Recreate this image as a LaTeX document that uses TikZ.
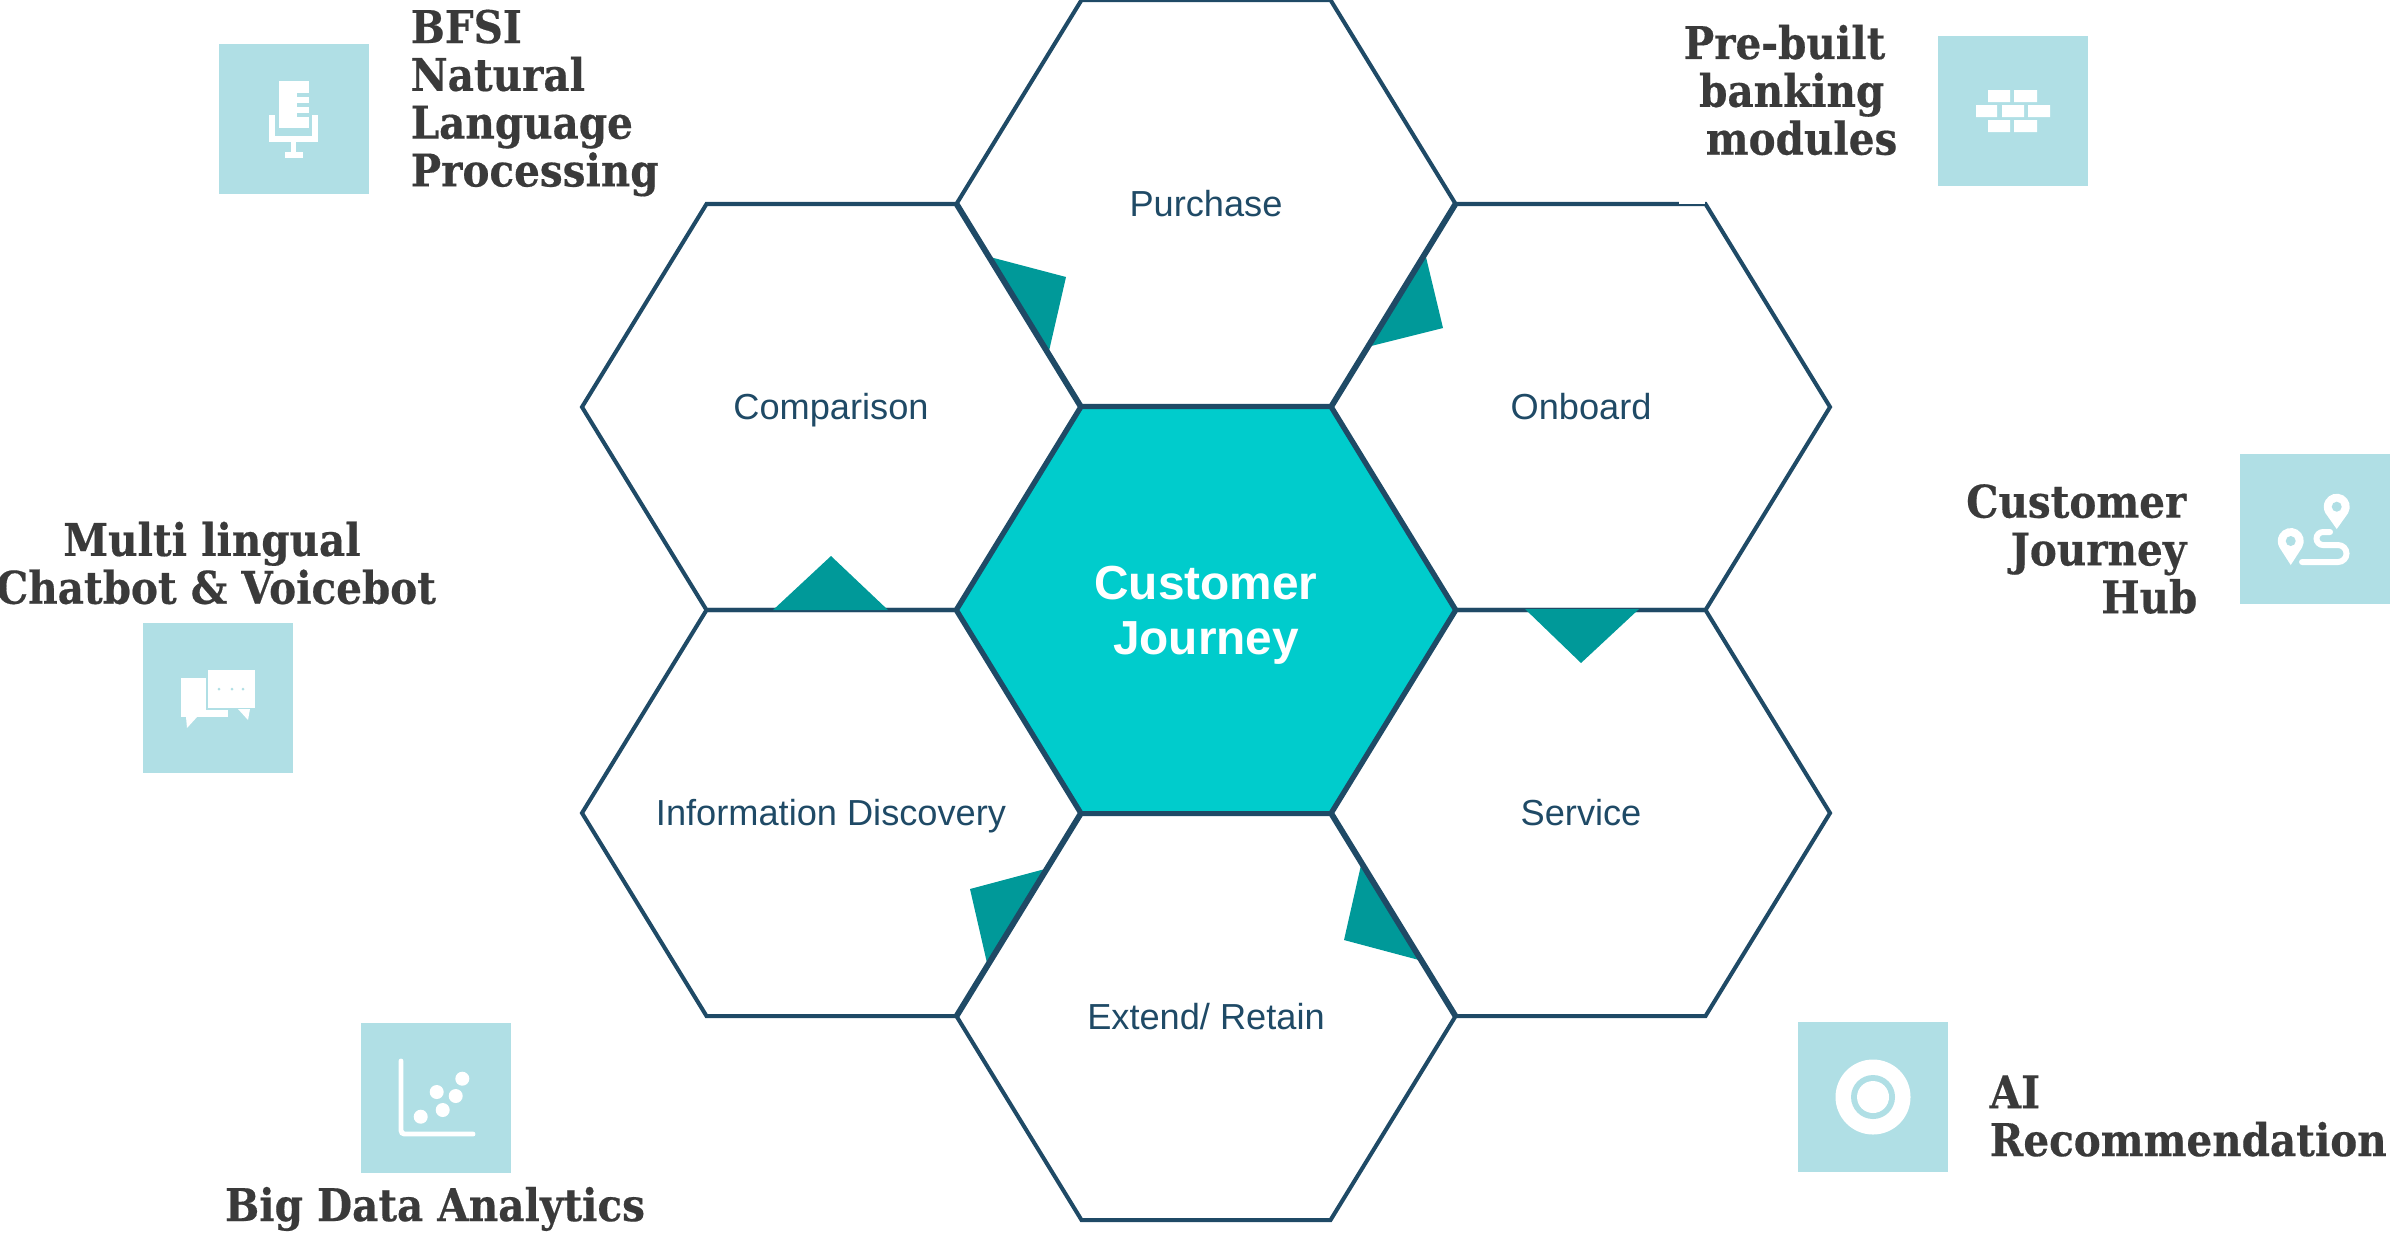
\documentclass[tikz,border=0pt]{standalone}
\usepackage{fontspec}
\setmainfont{Liberation Sans}
\newfontfamily\slabfont[FakeStretch=0.9,FakeBold=0.4]{DejaVu Serif}
\definecolor{hexblue}{HTML}{1F4A66}
\definecolor{hubcyan}{HTML}{00CCCC}
\definecolor{tipteal}{HTML}{009999}
\definecolor{iconblue}{HTML}{B0DFE5}
\definecolor{slabgray}{HTML}{3A3A3A}
\tikzset{
    hexline/.style={draw=hexblue, line width=1.15pt, line join=miter},
    hexcell/.pic={\draw[hexline, pic actions] (-2.49,0) -- (-1.245,-2.03) -- (1.245,-2.03) -- (2.49,0) -- (1.245,2.03) -- (-1.245,2.03) -- cycle;},
    hexlabel/.style={text=hexblue, text height=7.4pt, text depth=0pt, font=\fontsize{10.3}{12}\selectfont},
    tip/.style={fill=tipteal},
    iconbox/.style={fill=iconblue, minimum size=1.5cm, inner sep=0pt, outer sep=0pt},
    iconline/.style={draw=white, line width=1.6pt},
    slablabel/.style={text=slabgray, inner sep=0pt, font=\slabfont\bfseries\fontsize{12.8}{13.6}\selectfont}
}
\begin{document}
\begin{tikzpicture}[y=-1cm]
    \useasboundingbox (0,0) rectangle (24,12.32);

    % tips under the lines
    \fill[tip] (9.90,2.57) -- (10.66,2.77) -- (10.49,3.51) -- cycle;
    \fill[tip] (14.25,2.53) -- (14.43,3.28) -- (13.67,3.47) -- cycle;
    \fill[tip] (10.45,8.69) -- (9.70,8.89) -- (9.87,9.63) -- cycle;
    \fill[tip] (13.61,8.65) -- (13.44,9.40) -- (14.19,9.60) -- cycle;

    % cells
    \pic at (12.06,2.03) {hexcell};
    \pic at (8.31,4.07) {hexcell};
    \pic at (15.81,4.07) {hexcell};
    \pic at (8.31,8.13) {hexcell};
    \pic at (15.81,8.13) {hexcell};
    \pic at (12.06,10.17) {hexcell};
    \pic[fill=hubcyan] at (12.06,6.10) {hexcell};
    \fill[white] (16.79,1.99) rectangle (17.05,2.04);

    \fill[tip] (8.31,5.56) -- (7.73,6.10) -- (8.88,6.10) -- cycle;
    \fill[tip] (15.81,6.63) -- (15.25,6.09) -- (16.39,6.09) -- cycle;

    \node[hexlabel] (purchase) at (12.06,2.03) {Purchase};
    \node[hexlabel] (comparison) at (8.31,4.06) {Comparison};
    \node[hexlabel] (onboard) at (15.81,4.06) {Onboard};
    \node[hexlabel] (discovery) at (8.31,8.12) {Information Discovery};
    \node[hexlabel] (service) at (15.81,8.12) {Service};
    \node[hexlabel] (retain) at (12.06,10.16) {Extend/ Retain};
    \node[text=white, align=center, font=\bfseries\fontsize{13.6}{15.6}\selectfont] (hub) at (12.06,6.15) {Customer\\Journey};

    % icon squares
    \node[iconbox] (nlpbox) at (2.94,1.19) {};
    \node[iconbox] (modulebox) at (20.13,1.105) {};
    \node[iconbox] (journeybox) at (23.15,5.285) {};
    \node[iconbox] (chatbox) at (2.18,6.98) {};
    \node[iconbox] (databox) at (4.36,10.98) {};
    \node[iconbox] (aibox) at (18.73,10.97) {};

    % side texts
    \node[slablabel, anchor=west, align=left] (nlptext) at (4.10,1.03) {BFSI\\Natural\\Language\\Processing};
    \node[slablabel, anchor=east, align=right] (moduletext) at (18.98,0.90) {Pre-built\rule{0.12cm}{0pt}\\banking\rule{0.13cm}{0pt}\\modules};
    \node[slablabel, anchor=east, align=right] (journeytext) at (21.98,5.49) {Customer\rule{0.11cm}{0pt}\\Journey\rule{0.11cm}{0pt}\\Hub};
    \node[slablabel, align=center] (chattext) at (2.16,5.63) {Multi lingual\rule{0.08cm}{0pt}\\Chatbot \& Voicebot};
    \node[slablabel, anchor=base] (datatext) at (4.35,12.21) {Big Data Analytics};
    \node[slablabel, anchor=west, align=left] (aitext) at (19.89,11.16) {AI\\Recommendation};

    % microphone
    \fill[white] (2.79,0.81) rectangle (3.09,1.28);
    \draw[iconblue, line width=0.9pt] (2.97,0.95) -- (3.10,0.95) (2.97,1.05) -- (3.10,1.05) (2.97,1.15) -- (3.10,1.15);
    \draw[iconline] (2.72,1.15) -- (2.72,1.39) -- (3.15,1.39) -- (3.15,1.15);
    \draw[iconline] (2.935,1.39) -- (2.935,1.55) (2.85,1.55) -- (3.03,1.55);

    % bricks
    \fill[white] (19.88,0.90) rectangle (20.10,1.02) (20.14,0.90) rectangle (20.37,1.02);
    \fill[white] (19.76,1.05) rectangle (19.97,1.17) (20.02,1.05) rectangle (20.24,1.17) (20.28,1.05) rectangle (20.50,1.17);
    \fill[white] (19.88,1.20) rectangle (20.10,1.32) (20.14,1.20) rectangle (20.37,1.32);

    % route
    \fill[white] (23.367,5.29) -- (23.48,5.132) arc[start angle=30, end angle=-210, radius=0.13] -- cycle;
    \fill[white] (22.907,5.65) -- (23.02,5.475) arc[start angle=30, end angle=-210, radius=0.13] -- cycle;
    \fill[iconblue] (23.367,5.067) circle (0.05) (22.907,5.41) circle (0.05);
    \draw[iconline, line width=1.7pt, line cap=round] (23.02,5.62) -- (23.38,5.62) arc[start angle=90, end angle=-90, radius=0.085] -- (23.23,5.45) arc[start angle=90, end angle=270, radius=0.065] -- (23.30,5.32);

    % speech bubbles
    \fill[white] (1.81,6.78) rectangle (2.28,7.17);
    \fill[white] (1.86,7.17) -- (1.87,7.28) -- (1.97,7.17) -- cycle;
    \filldraw[fill=white, draw=iconblue, line width=0.6pt] (2.07,6.69) rectangle (2.56,7.09);
    \fill[white] (2.38,7.09) -- (2.48,7.20) -- (2.50,7.09) -- cycle;
    \fill[iconblue] (2.19,6.89) circle (0.015) (2.32,6.89) circle (0.015) (2.43,6.89) circle (0.015);

    % scatter chart
    \draw[iconline, line width=1.4pt, line cap=round, rounded corners=1pt] (4.01,10.61) -- (4.01,11.34) -- (4.73,11.34);
    \fill[white] (4.207,11.167) circle (0.07) (4.427,11.10) circle (0.07) (4.367,10.92) circle (0.07) (4.557,10.96) circle (0.07) (4.623,10.787) circle (0.07);

    % target
    \fill[white] (18.73,10.97) circle (0.375);
    \fill[iconblue] (18.73,10.97) circle (0.22);
    \fill[white] (18.73,10.97) circle (0.16);
\end{tikzpicture}
\end{document}
